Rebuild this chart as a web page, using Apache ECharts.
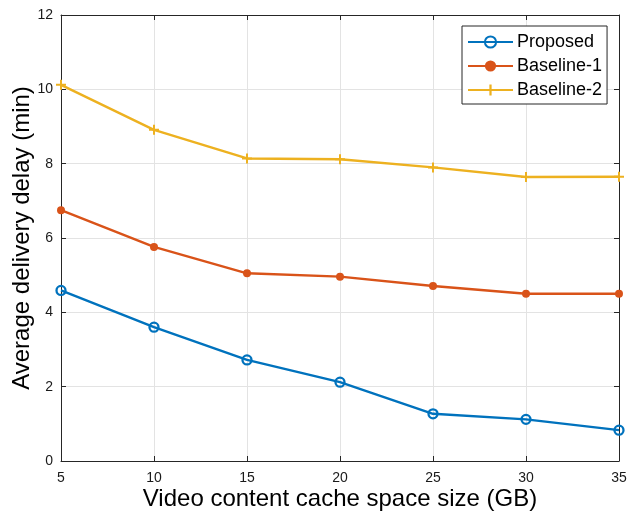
<!DOCTYPE html>
<html>
<head>
<meta charset="utf-8">
<script src="https://cdn.jsdelivr.net/npm/echarts@6/dist/echarts.min.js"></script>
<style>
  html, body { margin: 0; padding: 0; background: #fff; }
  #chart { width: 627px; height: 514px; }
</style>
</head>
<body>
<div id="chart"></div>
<script>
// Cache size (GB) on the x axis
const cacheSizes = [5, 10, 15, 20, 25, 30, 35];
// Average delivery delay (min) for each scheme
const proposed  = [4.59, 3.60, 2.72, 2.12, 1.27, 1.12, 0.83];
const baseline1 = [6.75, 5.76, 5.05, 4.96, 4.71, 4.50, 4.50];
const baseline2 = [10.12, 8.91, 8.14, 8.12, 7.90, 7.64, 7.65];
const seriesNames = ['Proposed', 'Baseline-1', 'Baseline-2'];
const xTicks = [5, 10, 15, 20, 25, 30, 35];
const yTicks = [0, 2, 4, 6, 8, 10, 12];

const FONT = '"Liberation Sans", Arial, Helvetica, sans-serif';
const AXIS = '#262626';
const GRIDC = '#e3e3e3';
const COLORS = ['#0072BD', '#D95319', '#EDB120'];
const PLUS = 'path://M-1,-0.2H1V0.2H-1Z M-0.2,-1H0.2V1H-0.2Z';
const LW = 2.4;

const pairs = ys => cacheSizes.map((x, i) => [x, ys[i]]);

const chart = echarts.init(document.getElementById('chart'), null, { renderer: 'canvas' });

const boxAxis = {
  type: 'value',
  axisLine: { show: true, onZero: false, lineStyle: { color: AXIS, width: 1 } },
  axisTick: { show: true, inside: true, length: 5, lineStyle: { color: AXIS } },
  axisLabel: { show: false },
  splitLine: { show: false }
};

chart.setOption({
  animation: false,
  backgroundColor: '#fff',
  textStyle: { fontFamily: FONT },
  grid: { left: 61, right: 8, top: 15, bottom: 53, containLabel: false, outerBoundsMode: 'none' },
  legend: {
    orient: 'vertical',
    left: 462,
    top: 26,
    padding: [7, 5, 5, 5],
    itemGap: 6,
    itemWidth: 45,
    itemHeight: 14,
    backgroundColor: '#fff',
    borderColor: AXIS,
    borderWidth: 1,
    borderRadius: 0,
    textStyle: { fontFamily: FONT, fontSize: 18, color: '#000', padding: [0, 0, 0, -1] },
    data: seriesNames
  },
  xAxis: [
    {
      type: 'value',
      min: xTicks[0],
      max: xTicks[xTicks.length - 1],
      interval: 5,
      position: 'bottom',
      name: 'Video content cache space size (GB)',
      nameLocation: 'middle',
      nameGap: 26,
      nameMoveOverlap: false,
      nameTextStyle: { fontFamily: FONT, fontSize: 24, color: '#000' },
      axisLine: { show: true, onZero: false, lineStyle: { color: AXIS, width: 1 } },
      axisTick: { show: true, inside: true, length: 5, lineStyle: { color: AXIS } },
      axisLabel: { show: true, margin: 10, fontFamily: FONT, fontSize: 14, color: '#1a1a1a' },
      splitLine: { show: true, lineStyle: { color: GRIDC, width: 1 } }
    },
    Object.assign({}, boxAxis, { min: xTicks[0], max: xTicks[xTicks.length - 1], interval: 5, position: 'top' })
  ],
  yAxis: [
    {
      type: 'value',
      min: yTicks[0],
      max: yTicks[yTicks.length - 1],
      interval: 2,
      position: 'left',
      name: 'Average delivery delay (min)',
      nameLocation: 'middle',
      nameGap: 27,
      nameMoveOverlap: false,
      nameTextStyle: { fontFamily: FONT, fontSize: 24, color: '#000' },
      axisLine: { show: true, onZero: false, lineStyle: { color: AXIS, width: 1 } },
      axisTick: { show: true, inside: true, length: 5, lineStyle: { color: AXIS } },
      axisLabel: { show: true, margin: 8, fontFamily: FONT, fontSize: 14, color: '#1a1a1a' },
      splitLine: { show: true, lineStyle: { color: GRIDC, width: 1 } }
    },
    Object.assign({}, boxAxis, { min: yTicks[0], max: yTicks[yTicks.length - 1], interval: 2, position: 'right' })
  ],
  series: [
    {
      name: seriesNames[0],
      type: 'line',
      data: pairs(proposed),
      symbol: 'circle',
      symbolSize: 9,
      lineStyle: { color: COLORS[0], width: LW },
      itemStyle: { color: 'rgba(255,255,255,0)', borderColor: COLORS[0], borderWidth: 2.3 },
      z: 4
    },
    {
      name: seriesNames[1],
      type: 'line',
      data: pairs(baseline1),
      symbol: 'circle',
      symbolSize: 8,
      lineStyle: { color: COLORS[1], width: LW },
      itemStyle: { color: COLORS[1], borderWidth: 0 },
      z: 3
    },
    {
      name: seriesNames[2],
      type: 'line',
      data: pairs(baseline2),
      symbol: PLUS,
      symbolSize: 10,
      lineStyle: { color: COLORS[2], width: LW },
      itemStyle: { color: COLORS[2], borderWidth: 0 },
      z: 2
    }
  ]
});
</script>
</body>
</html>
